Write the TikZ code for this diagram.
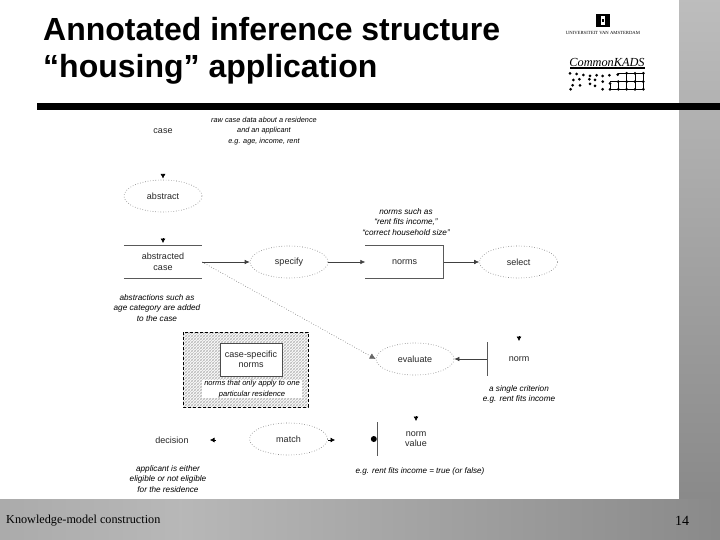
\documentclass[tikz,border=0pt]{standalone}
\usepackage{fontspec}
\setmainfont{Liberation Sans}
\newfontfamily\timesf{Liberation Serif}
\usetikzlibrary{arrows.meta,patterns,positioning,calc,shapes.geometric}
\tikzset{
  x=1pt,y=-1pt,
  lbl/.style={font=\fontsize{9}{10.5}\selectfont,align=center,text=black!85,inner sep=0pt},
  note/.style={font=\itshape\fontsize{8.2}{10.3}\selectfont,align=center,text=black,inner sep=0pt},
  smallnote/.style={note,font=\itshape\fontsize{7.3}{10.3}\selectfont},
  infer/.style={ellipse,draw=black!55,dotted,line width=.6pt,minimum width=78pt,minimum height=32pt,inner sep=0pt,font=\fontsize{9}{10.5}\selectfont,text=black!85},
  rolebox/.style={rectangle,minimum width=78pt,minimum height=33pt,inner sep=0pt,align=center,font=\fontsize{9}{10.5}\selectfont,text=black!85},
  rule/.style={draw=black!65,line width=.6pt},
  flow/.style={draw=black!75,line width=.6pt,-{Latex[length=5pt,width=4.5pt]}},
  stub/.style={draw=black,line width=.6pt,-{Latex[length=4.5pt,width=5pt]}},
  dotflow/.style={draw=black!60,dotted,line width=.6pt,-{Latex[length=6pt,width=6pt]}},
  title/.style={font=\bfseries\fontsize{32}{38}\selectfont,inner sep=0pt,anchor=base west},
}
\begin{document}
\begin{tikzpicture}
\useasboundingbox (0,0) rectangle (720,540);
\fill[white] (0,0) rectangle (720,540);
% frame
\shade[top color=black!26,bottom color=black!46] (679,0) rectangle (720,499);
\shade[left color=black!33,right color=black!28] (0,499) rectangle (180,540);
\shade[left color=black!28,right color=black!46] (180,499) rectangle (720,540);
\fill[black] (37,103) rectangle (720,110);
% title
\node[title] (ttl) at (43,41) {Annotated inference structure};
\node[title] (ttlb) at (43,78) {``housing'' application};
% logos
\node[font=\timesf\fontsize{4.7}{5}\selectfont,inner sep=0pt] (uva) at (603,33) {UNIVERSITEIT VAN AMSTERDAM};
\fill[black] (596,14) rectangle (610,27);
\fill[white] (601,16) rectangle (605,25);
\fill[black] (602,19) rectangle (604,22);
\node[font=\timesf\itshape\fontsize{12.3}{14}\selectfont,inner sep=0pt] (ck) at (607,62) {CommonKADS};
\fill[black] (570,67.5) rectangle (645,69);
\begin{scope}[shift={(550,0)},x=.3333pt,y=-.3333pt]
  \draw[black,line width=.6pt] (205,220)--(280,220) (180,245)--(280,245) (180,268)--(280,268)
     (230,220)--(230,268) (255,220)--(255,268) (280,220)--(280,268) (205,245)--(205,268) (180,250)--(180,268);
  \foreach \a/\b in {60/220,80/222,100/225,120/228,140/226,158/228,178/226,203/224,70/240,88/238,118/238,135/240,158/245,68/256,90/256,120/252,135/258,62/268,158/268,180/250,180/268,205/245,205/268,230/220,230/245,230/268,255/220,255/245,255/268,280/220,280/245,280/268}
    \fill[black] (\a,\b) circle (1.5pt);
\end{scope}
% hatched box
\fill[white] (183,332) rectangle (308,407);
\fill[pattern=north east lines,pattern color=black!30] (183,332) rectangle (308,407);
\fill[pattern=north west lines,pattern color=black!18] (183,332) rectangle (308,407);
\draw[black,densely dashed,line width=.7pt] (183,332) rectangle (308,407);
\node[rectangle,draw=black!70,fill=white,line width=.6pt,minimum width=62pt,minimum height=33pt,inner sep=0pt,align=center,font=\fontsize{9}{10.5}\selectfont,text=black!85] (csn) at (251,359.5) {case-specific\\norms};
\node[smallnote,fill=white,minimum width=100pt,minimum height=18pt,font=\itshape\fontsize{7.6}{10.3}\selectfont] (csnote) at (252,389) {norms that only apply to one\\particular residence};
% nodes
\node[lbl] (case) at (163,131) {case};
\node[smallnote] (casenote) at (264,131) {raw case data about a residence\\and an applicant\\e.g. age, income, rent};
\node[infer] (abstract) at (163,196) {abstract};
\node[rolebox] (abscase) at (163,262) {abstracted\\case};
\node[note] (absnote) at (157,308) {abstractions such as\\age category are added\\to the case};
\node[infer] (specify) at (289,262) {specify};
\node[rolebox] (norms) at (404.5,262) {norms};
\node[note] (normsnote) at (406,222) {norms such as\\``rent fits income,''\\``correct household size''};
\node[infer] (select) at (518.5,262) {select};
\node[infer] (evaluate) at (415,359) {evaluate};
\node[rolebox,minimum width=64pt] (norm) at (519,359) {norm};
\node[note] (normnote) at (519,394.5) {a single criterion\\e.g. rent fits income};
\node[lbl] (decision) at (172,440) {decision};
\node[note] (decnote) at (168,479) {applicant is either\\eligible or not eligible\\for the residence};
\node[infer] (match) at (288.5,439) {match};
\node[rolebox] (normval) at (416,439) {norm\\value};
\node[note,font=\itshape\fontsize{8.1}{10}\selectfont] (valnote) at (420,471) {e.g. rent fits income = true (or false)};
% role rules
\draw[rule] (abscase.north west)--(abscase.north east) (abscase.south west)--(abscase.south east);
\draw[rule] (norms.north west)--(norms.north east)--(norms.south east)--(norms.south west);
\draw[rule] (norm.north west)--(norm.south west);
\draw[rule] (normval.north west)--(normval.south west);
% connectors
\coordinate (a1) at (163,174); \coordinate (a1t) at (163,178.5);
\coordinate (a2) at (163,238); \coordinate (a2t) at (163,243);
\coordinate (a3) at (519,336); \coordinate (a3t) at (519,341);
\coordinate (a4) at (416,416); \coordinate (a4t) at (416,421);
\coordinate (a5) at (216,440); \coordinate (a5t) at (210,440);
\coordinate (a6) at (328,440); \coordinate (a6t) at (335,440);
\draw[stub] (a1)--(a1t);
\draw[stub] (a2)--(a2t);
\draw[stub] (a3)--(a3t);
\draw[stub] (a4)--(a4t);
\draw[stub] (a5)--(a5t);
\draw[stub] (a6)--(a6t);
\draw[flow] (abscase.east)--(specify.west);
\draw[flow] (specify.east)--(norms.west);
\draw[flow] (norms.east)--(select.west);
\draw[flow] (norm.west)--(evaluate.east);
\draw[dotflow] (abscase.east)--(evaluate.west);
\fill[black] ($(normval.west)+(-3,0)$) circle (3);
% footer
\node[font=\timesf\fontsize{12.2}{15}\selectfont,inner sep=0pt,anchor=west] (foot) at (6,521) {Knowledge-model construction};
\node[font=\timesf\fontsize{14}{15}\selectfont,inner sep=0pt] (page) at (682,521) {14};
\end{tikzpicture}
\end{document}
